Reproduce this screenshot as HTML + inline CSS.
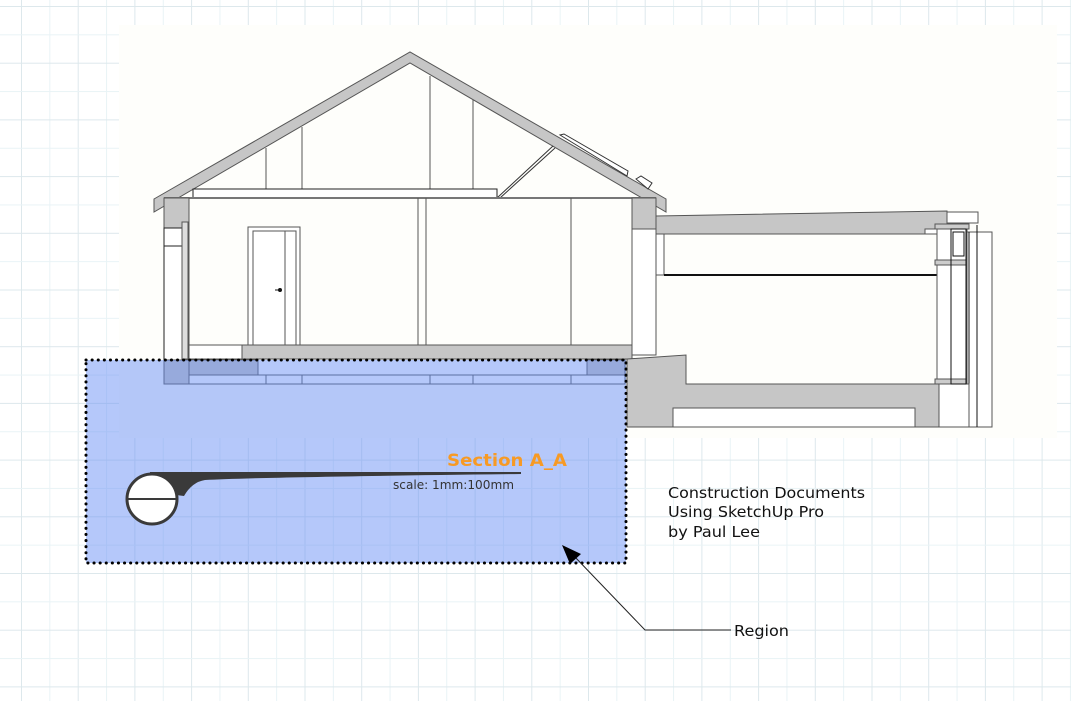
<!DOCTYPE html>
<html><head><meta charset="utf-8"><style>
html,body{margin:0;padding:0;width:1071px;height:701px;overflow:hidden;background:#fff}
svg{display:block}
</style></head><body>
<svg width="1071" height="701" viewBox="0 0 1071 701" xmlns="http://www.w3.org/2000/svg">
<defs>
<pattern id="g" x="21" y="6" width="56.7" height="56.7" patternUnits="userSpaceOnUse">
<line x1="0.5" y1="0" x2="0.5" y2="56.7" stroke="#dde8ec" stroke-width="1"/>
<line x1="28.85" y1="0" x2="28.85" y2="56.7" stroke="#e9f3f6" stroke-width="1"/>
<line x1="0" y1="0.5" x2="56.7" y2="0.5" stroke="#dde8ec" stroke-width="1"/>
<line x1="0" y1="28.85" x2="56.7" y2="28.85" stroke="#e9f3f6" stroke-width="1"/>
</pattern>
</defs>
<rect width="1071" height="701" fill="#fff"/>
<rect width="1071" height="701" fill="url(#g)"/>
<rect x="119" y="25" width="938" height="413" fill="#fefefb"/>

<g stroke="#555" stroke-width="1" fill="none">
<polygon points="154,199 410,52 666,199 666,212 410,63 154,212" fill="#c6c6c6"/>
<line x1="266" y1="148" x2="266" y2="189"/>
<line x1="302" y1="127" x2="302" y2="189"/>
<line x1="430" y1="76" x2="430" y2="198"/>
<line x1="473" y1="100" x2="473" y2="198"/>
<rect x="193" y="189" width="304" height="9" fill="#fff" stroke="#222"/>
<line x1="497" y1="198" x2="553" y2="146" stroke="#333"/>
<line x1="500" y1="198" x2="555" y2="148" stroke="#333"/>
<polygon points="560,135 564,134 628,171 627,176" fill="#fff" stroke="#333"/>
<polygon points="636,179 641,176 652,183 648,189" fill="#fff" stroke="#333"/>
<line x1="164" y1="198" x2="656" y2="198" stroke="#777" stroke-width="2"/>
<rect x="164" y="198" width="25" height="30" fill="#c6c6c6"/>
<rect x="632" y="198" width="24" height="31" fill="#c6c6c6"/>
<rect x="164" y="228" width="25" height="132" fill="#fff" stroke="#222"/>
<line x1="164" y1="246" x2="189" y2="246" stroke="#222"/>
<rect x="182" y="222" width="6" height="137" fill="#ddd"/>
<line x1="189" y1="198" x2="189" y2="345"/>
<line x1="632" y1="229" x2="632" y2="355"/>
<rect x="632" y="229" width="24" height="126" fill="#fff"/>
<rect x="189" y="345" width="53" height="14" fill="#fff"/>
<polygon points="242,345 632,345 632,359 242,359" fill="#c6c6c6"/>
<line x1="189" y1="345" x2="632" y2="345"/>
<rect x="248" y="227" width="52" height="118" fill="#fff"/>
<rect x="253" y="231" width="43" height="114"/>
<line x1="285" y1="231" x2="285" y2="345"/>
<circle cx="280" cy="290" r="2" fill="#111" stroke="none"/>
<line x1="275" y1="290" x2="280" y2="290" stroke="#111"/>
<line x1="418" y1="198" x2="418" y2="345"/>
<line x1="426" y1="198" x2="426" y2="345"/>
<line x1="571" y1="198" x2="571" y2="345"/>
<rect x="164" y="360" width="25" height="24" fill="#c6c6c6"/>
<rect x="189" y="360" width="69" height="15" fill="#c6c6c6"/>
<rect x="258" y="359" width="329" height="16" fill="#fff"/>
<rect x="587" y="360" width="38" height="15" fill="#c6c6c6"/>
<rect x="189" y="375" width="436" height="9" fill="#fff"/>
<line x1="266" y1="375" x2="266" y2="384"/><line x1="302" y1="375" x2="302" y2="384"/>
<line x1="430" y1="375" x2="430" y2="384"/><line x1="473" y1="375" x2="473" y2="384"/>
<line x1="571" y1="375" x2="571" y2="384"/>
<polygon points="656,216 947,211 947,234 656,234" fill="#c6c6c6"/>
<rect x="947" y="212" width="31" height="11" fill="#fff"/>
<rect x="656" y="234" width="8" height="41" fill="#fff"/>
<line x1="664" y1="275" x2="937" y2="275" stroke="#111" stroke-width="2"/>
<polygon points="627,359 686,355 686,384 939,384 939,427 627,427" fill="#c6c6c6"/>
<rect x="673" y="408" width="242" height="19" fill="#fff"/>
<rect x="954" y="232" width="38" height="195" fill="#fff"/>
<line x1="969" y1="232" x2="969" y2="427" stroke="#111"/>
<line x1="977" y1="225" x2="977" y2="427" stroke="#111"/>
<rect x="939" y="384" width="30" height="43" fill="#fff"/>
<rect x="937" y="228" width="30" height="156" fill="#fff"/>
<rect x="935" y="224" width="34" height="5" fill="#ccc"/>
<rect x="935" y="260" width="32" height="5" fill="#ccc"/>
<rect x="935" y="379" width="32" height="5" fill="#ccc"/>
<rect x="951" y="229" width="15" height="155" stroke="#111"/>
<rect x="953" y="232" width="11" height="24" stroke="#111"/>
<rect x="925" y="229" width="12" height="5" fill="#fff"/>
</g>

<rect x="86" y="360" width="540" height="203" fill="rgb(100,140,245)" fill-opacity="0.48" stroke="#000" stroke-width="3" stroke-dasharray="0.1 6" stroke-linecap="round"/>

<path d="M150,472 L521,472 L521,474 Q260,477 205,480 Q192,482 184,496 L176,495 L150,474 Z" fill="#3a3a3a"/>
<circle cx="152" cy="499" r="25" fill="#fff" stroke="#3a3a3a" stroke-width="3"/>
<line x1="127" y1="499" x2="177" y2="499" stroke="#3a3a3a" stroke-width="2"/>
<text x="447" y="466" font-family="'DejaVu Sans',Verdana,sans-serif" font-weight="bold" font-size="17" fill="#f79a24" textLength="120" lengthAdjust="spacingAndGlyphs">Section A_A</text>
<text x="393" y="489" font-family="'DejaVu Sans',Verdana,sans-serif" font-size="12" fill="#333" textLength="121" lengthAdjust="spacingAndGlyphs">scale: 1mm:100mm</text>

<g font-family="'DejaVu Sans',Verdana,sans-serif" font-size="15" fill="#111">
<text x="668" y="498" textLength="197" lengthAdjust="spacingAndGlyphs">Construction Documents</text>
<text x="668" y="517" textLength="156" lengthAdjust="spacingAndGlyphs">Using SketchUp Pro</text>
<text x="668" y="537" textLength="92" lengthAdjust="spacingAndGlyphs">by Paul Lee</text>
<text x="734" y="636" textLength="55" lengthAdjust="spacingAndGlyphs">Region</text>
</g>
<polyline points="731,630 645,630 574,556" fill="none" stroke="#222" stroke-width="1"/>
<polygon points="562,545 581,554 570,564" fill="#000"/>
</svg>
</body></html>
